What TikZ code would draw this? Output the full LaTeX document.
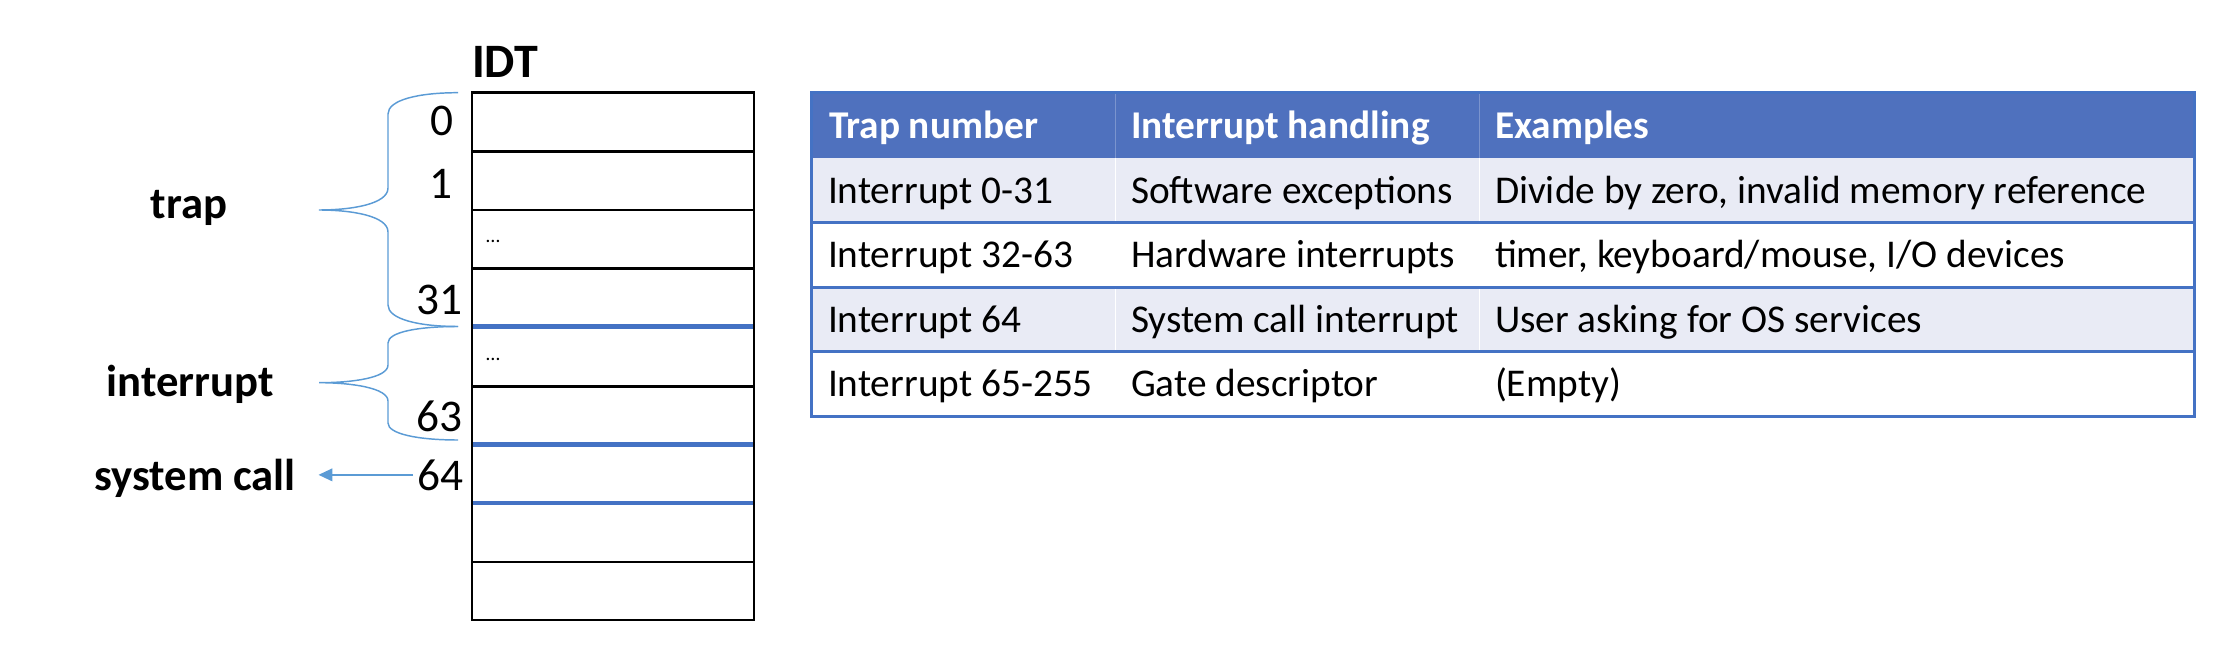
\documentclass[tikz,border=0pt]{standalone}
\usepackage{fontspec}
\setmainfont{Carlito}
\usetikzlibrary{arrows.meta}
\definecolor{hdrblue}{HTML}{4472C4}
\definecolor{hdrfill}{HTML}{4F71BE}
\definecolor{bandgray}{HTML}{E9EBF5}
\definecolor{bracecol}{HTML}{5B9BD5}
\begin{document}
\begin{tikzpicture}[x=0.75pt,y=-0.75pt,
  txt/.style={inner sep=0pt, outer sep=0pt},
  cell/.style={txt, anchor=base west, font=\fontsize{29.5}{35}\selectfont},
  hcell/.style={cell, text=white, font=\fontsize{29.5}{35}\selectfont\bfseries},
  num/.style={txt, anchor=base east, font=\fontsize{34}{40}\selectfont},
  lbl/.style={txt, anchor=base, font=\fontsize{33.5}{40}\selectfont\bfseries},
  dots/.style={txt, anchor=base west, font=\fontsize{15}{18}\selectfont},
  idtline/.style={line width=1.8pt, black},
  sepline/.style={line width=3.4pt, hdrblue},
  tabline/.style={line width=1.9pt, hdrblue},
  bracestyle/.style={line width=1.1pt, bracecol},
  callarrow/.style={line width=1.4pt, bracecol, -{Triangle[length=10.5pt,width=9.5pt]}}
]
\useasboundingbox (0,0) rectangle (2238,652);

% ---------------- IDT ----------------
\node[txt, anchor=base west, font=\fontsize{36}{42}\selectfont\bfseries] (idt) at (472,77.3) {IDT};
\foreach \yy in {151.7,210.3,268.7,386.3,562}
  \draw[idtline] (472,\yy) -- (754,\yy);
\foreach \yy in {326.7,444.3,503}
  \draw[sepline] (473,\yy) -- (753,\yy);
\draw[idtline] (472,92.7) rectangle (754,620);

\node[dots] (dotsA) at (486,243) {…};
\node[dots] (dotsB) at (486,360) {…};

% indices
\node[num] (n0)  at (453,135.5) {0};
\node[num] (n1)  at (452,198.3) {1};
\node[num] (n31) at (462,315) {31};
\node[num] (n63) at (462,431.7) {63};
\node[num] (n64) at (463,490) {64};

% labels
\node[lbl] (trap) at (189,218.3) {trap};
\node[lbl] (intr) at (190,396.7) {interrupt};
\node[lbl] (syscall) at (195,490.7) {system call};

% braces
\coordinate (tA) at (458,92.7);
\coordinate (tTip) at (319,210);
\coordinate (tB) at (458,326.5);
\coordinate (iTip) at (319,382.7);
\coordinate (iB) at (458,440);
\draw[bracestyle] (tA) .. controls (418,92.7) and (388,100) .. (388,114)
  -- (388,188) .. controls (388,204) and (352,210) .. (tTip)
  .. controls (352,210) and (388,216) .. (388,232)
  -- (388,305) .. controls (388,319) and (418,326.5) .. (tB);
\draw[bracestyle] (tB) .. controls (418,326.5) and (388,332) .. (388,343)
  -- (388,365) .. controls (388,378) and (352,382.7) .. (iTip)
  .. controls (352,382.7) and (388,388) .. (388,401)
  -- (388,423) .. controls (388,434) and (418,440) .. (iB);

% arrow
\draw[callarrow, shorten <=3pt, shorten >=17pt] (n64.west) -- (n64.west -| syscall.east);

% ---------------- Table ----------------
\fill[hdrfill] (811.7,92.7) rectangle (2194.3,158.3);
\fill[bandgray] (811.7,158.3) rectangle (2194.3,222.7);
\fill[white] (811.7,222.7) rectangle (2194.3,287.3);
\fill[bandgray] (811.7,287.3) rectangle (2194.3,351.7);
\fill[white] (811.7,351.7) rectangle (2194.3,416.7);
\foreach \xx in {1115.3,1479.3} {
  \draw[white, opacity=0.25, line width=0.9pt] (\xx,94) -- (\xx,158.3);
  \draw[white, line width=0.9pt] (\xx,158.3) -- (\xx,416);
}
\foreach \yy in {222.7,287.3,351.7}
  \draw[tabline] (811.7,\yy) -- (2194.3,\yy);
\draw[tabline] (811.7,92.7) rectangle (2194.3,416.7);

\node[hcell] (h1) at (829,138.1) {Trap number};
\node[hcell] (h2) at (1131,138.1) {Interrupt handling};
\node[hcell] (h3) at (1495,138.1) {Examples};

\node[cell] (c11) at (828,203.1) {Interrupt 0-31};
\node[cell] (c12) at (1131,203.1) {Software exceptions};
\node[cell] (c13) at (1495,203.1) {Divide by zero, invalid memory reference};

\node[cell] (c21) at (828,267.6) {Interrupt 32-63};
\node[cell] (c22) at (1131,267.6) {Hardware interrupts};
\node[cell] (c23) at (1495,267.6) {timer, keyboard/mouse, I/O devices};

\node[cell] (c31) at (828,332.1) {Interrupt 64};
\node[cell] (c32) at (1131,332.1) {System call interrupt};
\node[cell] (c33) at (1495,332.1) {User asking for OS services};

\node[cell] (c41) at (828,396.8) {Interrupt 65-255};
\node[cell] (c42) at (1131,396.8) {Gate descriptor};
\node[cell] (c43) at (1495,396.8) {(Empty)};
\end{tikzpicture}
\end{document}
